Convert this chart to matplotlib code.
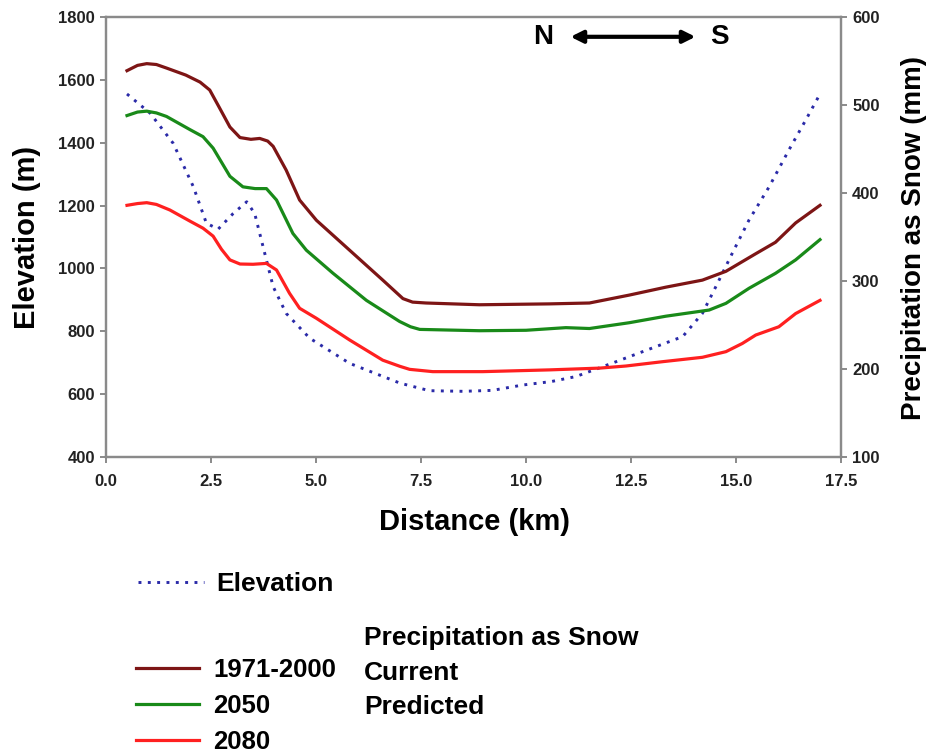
import matplotlib.pyplot as plt
import numpy as np
from matplotlib.lines import Line2D

plt.rcParams['font.family'] = ['Liberation Sans', 'DejaVu Sans']
plt.rcParams['font.weight'] = 'bold'

# elevation profile (left axis, m)
elev_km = [0.5, 1.05, 1.6, 2.08, 2.39, 2.67, 3.03, 3.35, 3.54, 3.74, 3.98, 4.29, 4.85, 5.8, 7.0,
           7.7, 8.5, 9.2, 9.92, 10.6, 11.19, 12.14, 13.09, 13.73, 14.2, 14.52, 14.91, 15.31,
           15.79, 16.26, 16.66, 17.0]
elev_m = [1555, 1494, 1398, 1260, 1144, 1125, 1175, 1212, 1175, 1069, 942, 857, 778, 698, 635,
          611, 609, 612, 629, 640, 656, 703, 751, 783, 857, 942, 1048, 1154,
          1260, 1377, 1472, 1555]

# precipitation as snow (right axis, mm)
p1_km = [0.5, 0.75, 0.97, 1.2, 1.44, 1.9, 2.24, 2.47, 2.7, 2.95, 3.19, 3.45, 3.66, 3.85, 3.98,
         4.29, 4.61, 5.01, 5.8, 6.59, 7.07, 7.3, 7.62, 8.89, 10.56, 11.51, 12.46, 13.33, 14.2,
         14.76, 15.47, 15.94, 16.42, 17.0]
p1_mm = [539, 545, 547, 546, 542, 534, 526, 517, 497, 475, 463, 461, 462, 459, 453,
         426, 392, 369, 335, 301, 280, 276, 275, 273, 274, 275, 284, 293, 301,
         311, 331, 344, 366, 386]

p2_km = [0.5, 0.75, 0.97, 1.2, 1.44, 2.0, 2.31, 2.55, 2.75, 2.95, 3.26, 3.55, 3.82, 4.06, 4.45,
         4.77, 5.4, 6.2, 6.99, 7.25, 7.47, 8.89, 10.0, 10.95, 11.51, 12.46, 13.33, 14.36, 14.76,
         15.31, 15.94, 16.42, 17.0]
p2_mm = [488, 492, 493, 491, 487, 472, 464, 451, 435, 419, 407, 405, 405, 392, 354,
         335, 309, 278, 254, 248, 245, 243.5, 244, 247, 246, 252.6, 260, 267, 274.6,
         291.7, 308.7, 324, 347]

p3_km = [0.5, 0.75, 0.97, 1.2, 1.52, 2.0, 2.31, 2.55, 2.75, 2.95, 3.19, 3.5, 3.82, 4.06, 4.37,
         4.61, 5.01, 5.8, 6.59, 7.0, 7.23, 7.78, 8.97, 10.56, 11.75, 12.38, 13.25, 14.2, 14.76,
         15.15, 15.47, 16.02, 16.42, 17.0]
p3_mm = [386, 388, 389, 387, 380.7, 368, 360, 351, 336, 324, 319.3, 319, 320, 312.5, 286,
         269, 257.6, 233, 210, 203, 199.6, 197, 197, 199, 201, 203.4, 208.3, 213.3, 219.7,
         229, 238.6, 248, 263, 278]

periods = ['1971-2000', '2050', '2080']
colors = ['#7d1515', '#198a19', '#ff2020']
elev_color = '#2a2aa8'
spine_c = '#8a8a8a'

fig = plt.figure(figsize=(9.3, 7.54), dpi=100)
ax = fig.add_axes([106/930, 1-457/754, 735/930, 440/754])
ax2 = ax.twinx()

ax.plot(elev_km, elev_m, color=elev_color, lw=2.1, linestyle=(0, (1, 2.2)))
for km, mm, c in zip([p1_km, p2_km, p3_km], [p1_mm, p2_mm, p3_mm], colors):
    ax2.plot(km, mm, color=c, lw=2.3, solid_joinstyle='round')

ax.set_xlim(0, 17.5)
ax.set_ylim(400, 1800)
ax2.set_ylim(100, 600)
ax.set_xticks(np.arange(0, 17.6, 2.5))
ax.set_xticklabels(['%.1f' % v for v in np.arange(0, 17.6, 2.5)])
ax.set_yticks(range(400, 1801, 200))
ax2.set_yticks(range(100, 601, 100))

for a in (ax, ax2):
    for s in a.spines.values():
        s.set_color(spine_c)
        s.set_linewidth(1.6)
ax.tick_params(axis='x', direction='out', length=4, width=1.4, color=spine_c, pad=8, labelsize=12)
ax.tick_params(axis='y', direction='out', length=4, width=1.4, color=spine_c, pad=4, labelsize=12)
ax2.tick_params(axis='y', direction='out', length=4, width=1.4, color=spine_c, pad=4, labelsize=12)
for lab in ax.get_xticklabels() + ax.get_yticklabels() + ax2.get_yticklabels():
    lab.set_fontweight('bold')
    lab.set_color('#222222')

# axis titles
fig.text(474/930, 1-522/754, 'Distance (km)', fontsize=21, fontweight='bold', ha='center', va='center')
fig.text(27/930, 1-237/754, 'Elevation (m)', fontsize=21, fontweight='bold', rotation=90,
         ha='center', va='center')
fig.text(914/930, 1-238/754, 'Precipitation as Snow (mm)', fontsize=20, fontweight='bold', rotation=90,
         ha='center', va='center')

# N <-> S direction
ax.text(0.595, 0.955, 'N', transform=ax.transAxes, fontsize=20, fontweight='bold', ha='center', va='center')
ax.text(0.835, 0.955, 'S', transform=ax.transAxes, fontsize=20, fontweight='bold', ha='center', va='center')
ax.annotate('', xy=(0.802, 0.955), xytext=(0.632, 0.955), xycoords='axes fraction',
            arrowprops=dict(arrowstyle='<|-|>', color='black', lw=3, mutation_scale=18,
                            shrinkA=0, shrinkB=0))

# legends
h_elev = [Line2D([], [], color=elev_color, lw=2.1, linestyle=(0, (1, 2.2)))]
leg1 = fig.legend(h_elev, ['Elevation'], loc='center left', bbox_to_anchor=(138/930, 1-584/754),
                  frameon=False, fontsize=19, handlelength=2.5, handletextpad=0.45,
                  borderpad=0, borderaxespad=0)
h_p = [Line2D([], [], color=c, lw=2.3) for c in colors]
leg2 = fig.legend(h_p, periods, loc='center left', bbox_to_anchor=(136/930, 1-706/754),
                  frameon=False, fontsize=18.5, handlelength=2.45, handletextpad=0.57,
                  labelspacing=0.45, borderpad=0, borderaxespad=0)
for t in leg1.get_texts() + leg2.get_texts():
    t.set_fontweight('bold')

for txt, yp in zip(['Precipitation as Snow', 'Current', 'Predicted'], [638, 673, 707]):
    fig.text(364/930, 1-yp/754, txt, fontsize=19, fontweight='bold', ha='left', va='center')

fig.savefig('out.png', dpi=100)
